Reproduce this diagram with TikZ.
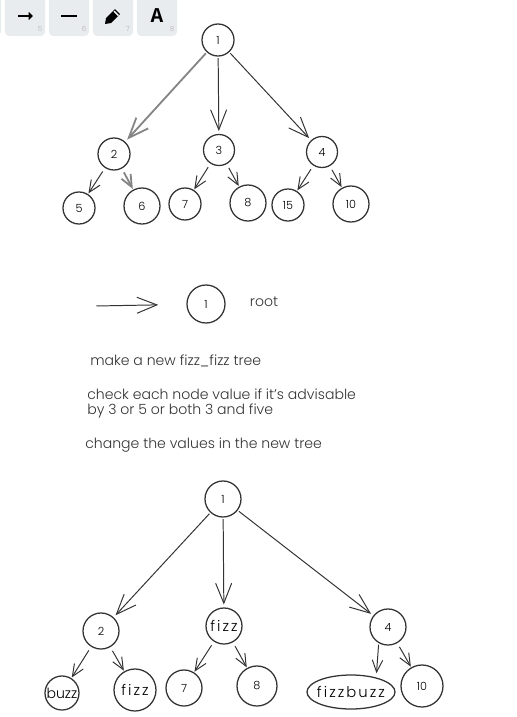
\documentclass[tikz,border=0pt]{standalone}
\usepackage{fontspec}
\setmainfont{Poppins Light}
\newfontfamily\keyfont{Liberation Mono}
\newfontfamily\wordfont[LetterSpace=14]{Poppins Light}
\usetikzlibrary{arrows.meta,
                shapes.geometric
            }
\definecolor{ink}{HTML}{333333}
\definecolor{keybg}{HTML}{E9ECEF}
\tikzset{
    vertex/.style={circle, draw=ink, line width=.9pt, inner sep=0pt, minimum size=#1*.25mm, font=\fontsize{8}{8}\selectfont},
    word/.style={font=\fontsize{10}{10}\selectfont},
    wide word/.style={font=\fontsize{10.5}{10.5}\selectfont\wordfont},
    edge/.style={draw=ink, line width=.7pt, shorten <=1pt, shorten >=2pt, -{Straight Barb[length=5mm, width=4mm]}},
    twig/.style={draw=ink, line width=.7pt, shorten <=3pt, shorten >=.5pt, -{Straight Barb[length=3mm, width=2.6mm]}},
    heavy/.style={draw=ink!60, line width=1.3pt},
    toolkey/.style={fill=keybg, rounded corners=.1cm, minimum size=1cm, inner sep=0pt},
    keynum/.style={text=black!30, font=\fontsize{5}{5}\selectfont, inner sep=0pt},
    note/.style={anchor=west, inner sep=0pt, text=ink, font=\fontsize{10}{10}\selectfont}
}
\begin{document}
\begin{tikzpicture}[x=.025cm, y=-.025cm]
            \useasboundingbox (0, 0) rectangle (516, 717);
            \node[toolkey] (key4) at (-19, 16) {};
            \node[toolkey] (key5) at (25, 16) {};
            \node[toolkey] (key6) at (69, 16) {};
            \node[toolkey] (key7) at (113, 16) {};
            \node[toolkey, font=\fontsize{15}{15}\selectfont\keyfont\bfseries] (key8) at (157, 16) {A};
            \node[keynum] (num5) at (40, 29) {5};
            \node[keynum] (num6) at (84, 29) {6};
            \node[keynum] (num7) at (128, 29) {7};
            \node[keynum] (num8) at (172, 29) {8};
            \coordinate (arrowfrom) at (18, 16);
            \coordinate (arrowto) at (33, 16);
            \coordinate (dashfrom) at (61, 16);
            \coordinate (dashto) at (77, 16);
            \draw[line width=1.5pt, -{Triangle[length=1.1mm, width=2mm]}] (arrowfrom) -- (arrowto);
            \draw[line width=1.5pt] (dashfrom) -- (dashto);
            \fill (105, 24) -- (106, 18) -- (115, 9) -- (120, 14) -- (111, 23) -- cycle;
            \fill[white] (113.5, 11.5) -- (114.5, 10.5) -- (119, 15) -- (118, 16) -- cycle;

            \node[vertex=32] (a1) at (218, 40) {1};
            \node[vertex=32] (a2) at (114, 154) {2};
            \node[vertex=31] (a3) at (219, 150) {3};
            \node[vertex=31] (a4) at (322, 152) {4};
            \node[vertex=32] (a5) at (79, 208) {5};
            \node[vertex=36] (a6) at (142, 206) {6};
            \node[vertex=32] (a7) at (185, 204) {7};
            \node[vertex=36] (a8) at (248, 203) {8};
            \node[vertex=32] (a15) at (288, 205) {15};
            \node[vertex=36] (a10) at (351, 204) {10};
            \draw[edge, heavy] (a1) -- (a2);
            \draw[edge] (a1) -- (a3);
            \draw[edge] (a1) -- (a4);
            \draw[twig] (a2) -- (a5);
            \draw[twig, heavy] (a2) -- (a6);
            \draw[twig] (a3) -- (a7);
            \draw[twig] (a3) -- (a8);
            \draw[twig] (a4) -- (a15);
            \draw[twig] (a4) -- (a10);

            \coordinate (rootfrom) at (95, 306);
            \node[vertex=38] (legend) at (206, 304) {1};
            \node[note, anchor=center] (rootname) at (264, 302) {root};
            \draw[edge, shorten >=20pt] (rootfrom) -- (legend);

            \node[note] (step1) at (90, 361) {make a new fizz\_fizz tree};
            \node[note] (step2) at (87, 394) {check each node value if it's advisable};
            \node[note] (step3) at (87, 411) {by 3 or 5 or both 3 and five};
            \node[note] (step4) at (85, 445) {change the values in the new tree};

            \node[vertex=36] (b1) at (223, 499) {1};
            \node[vertex=36] (b2) at (101, 631) {2};
            \node[vertex=36, wide word] (b3) at (224, 626) {fizz};
            \node[vertex=36] (b4) at (388, 627) {4};
            \node[vertex=34, word] (b5) at (62, 693) {buzz};
            \node[vertex=42, wide word] (b6) at (135, 690) {fizz};
            \node[vertex=36] (b7) at (184, 688) {7};
            \node[vertex=40] (b8) at (257, 686) {8};
            \node[vertex=34, wide word, ellipse, minimum width=88*.25mm, minimum height=34*.25mm] (b15) at (351, 692) {\makebox[0pt]{fizzbuzz}};
            \node[vertex=42] (b10) at (422, 686) {10};
            \draw[edge] (b1) -- (b2);
            \draw[edge] (b1) -- (b3);
            \draw[edge] (b1) -- (b4);
            \draw[twig] (b2) -- (b5);
            \draw[twig] (b2) -- (b6);
            \draw[twig] (b3) -- (b7);
            \draw[twig] (b3) -- (b8);
            \draw[twig, shorten <=1pt, shorten >=3pt] (b4.240) -- (b15.30);
            \draw[twig] (b4) -- (b10);
        \end{tikzpicture}
\end{document}
